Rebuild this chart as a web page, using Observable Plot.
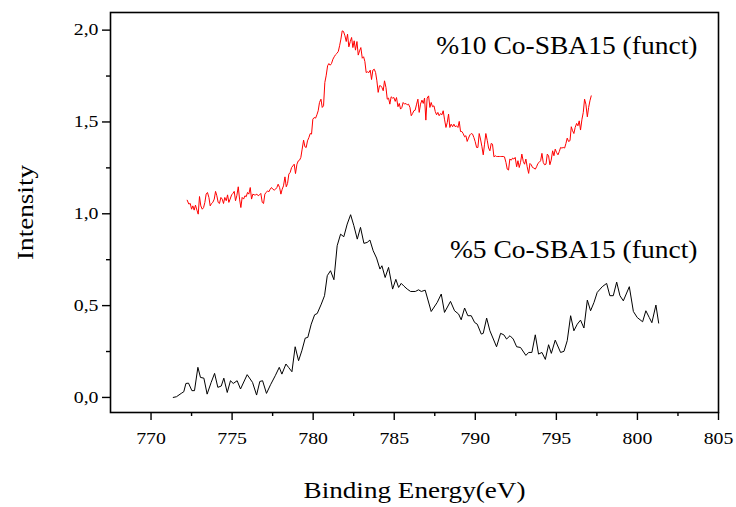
<!DOCTYPE html>
<html>
<head>
<meta charset="utf-8">
<script src="https://cdn.jsdelivr.net/npm/d3@7"></script>
<script src="https://cdn.jsdelivr.net/npm/@observablehq/plot@0.6"></script>
<style>
  html, body { margin: 0; padding: 0; background: #fff; }
  #chart svg, #chart svg text { font-family: "Liberation Serif", "Times New Roman", serif; }
</style>
</head>
<body>
<div id="chart"></div>
<script>
// ---- Data ----
// %5 Co-SBA15 (funct): [binding energy (eV), intensity]
const cobalt5 = [
  [771.37,0.000],[771.57,0.004],[771.86,0.022],[772.02,0.031],[772.15,0.076],[772.31,0.078],[772.52,0.037],[772.68,0.037],[772.89,0.164],[773.05,0.109],
  [773.26,0.105],[773.46,0.018],[773.71,0.082],[773.92,0.131],[774.12,0.055],[774.33,0.062],[774.49,0.105],[774.70,0.027],[774.90,0.091],[775.07,0.076],
  [775.31,0.091],[775.52,0.046],[775.93,0.124],[776.26,0.082],[776.51,0.013],[776.71,0.087],[776.88,0.091],[777.12,0.022],[777.37,0.069],[777.66,0.118],
  [777.91,0.164],[778.07,0.127],[778.32,0.182],[778.48,0.164],[778.69,0.140],[778.89,0.276],[779.10,0.200],[779.30,0.254],[779.51,0.323],[779.67,0.327],
  [779.88,0.399],[780.09,0.450],[780.25,0.457],[780.50,0.508],[780.70,0.554],[780.87,0.663],[781.07,0.690],[781.28,0.641],[781.48,0.826],[781.69,0.889],
  [781.89,0.875],[782.10,0.944],[782.31,0.995],[782.51,0.935],[782.72,0.862],[782.92,0.926],[783.13,0.839],[783.33,0.844],[783.50,0.857],[783.70,0.799],
  [783.91,0.759],[784.12,0.699],[784.24,0.717],[784.44,0.653],[784.65,0.708],[784.90,0.590],[785.10,0.643],[785.27,0.599],[785.43,0.621],[785.60,0.606],
  [785.80,0.590],[786.01,0.577],[786.30,0.577],[786.50,0.586],[786.67,0.577],[786.91,0.584],[787.28,0.468],[787.65,0.517],[787.90,0.563],[788.10,0.463],
  [788.47,0.523],[788.72,0.472],[788.97,0.454],[789.13,0.423],[789.34,0.487],[789.54,0.445],[789.75,0.445],[789.96,0.408],[790.12,0.399],[790.37,0.345],
  [790.49,0.349],[790.70,0.432],[790.90,0.363],[791.31,0.276],[791.56,0.349],[791.76,0.341],[791.93,0.318],[792.14,0.336],[792.34,0.318],[792.55,0.276],
  [792.79,0.272],[793.12,0.229],[793.29,0.245],[793.49,0.245],[793.70,0.341],[793.90,0.236],[794.11,0.245],[794.32,0.207],[794.52,0.287],[794.69,0.240],
  [794.93,0.312],[795.26,0.245],[795.47,0.251],[795.67,0.309],[795.88,0.445],[796.08,0.363],[796.29,0.399],[796.49,0.421],[796.70,0.378],[796.91,0.530],
  [797.11,0.472],[797.32,0.517],[797.52,0.572],[797.83,0.603],[798.10,0.621],[798.30,0.554],[798.51,0.554],[798.72,0.628],[798.92,0.554],[799.13,0.526],
  [799.50,0.603],[799.75,0.468],[799.99,0.435],[800.32,0.412],[800.52,0.472],[800.73,0.435],[800.89,0.407],[801.14,0.503],[801.31,0.405]
];

// %10 Co-SBA15 (funct): [binding energy (eV), intensity]
const cobalt10 = [
  [772.23,1.074],[772.33,1.053],[772.42,1.056],[772.50,1.025],[772.58,1.043],[772.66,1.020],[772.74,1.047],[772.83,1.020],[772.91,0.998],[772.99,1.094],
  [773.07,1.043],[773.16,1.025],[773.24,1.034],[773.32,1.062],[773.40,1.107],[773.48,1.116],[773.57,1.089],[773.65,1.043],[773.73,1.056],[773.81,1.062],
  [773.90,1.080],[773.98,1.122],[774.06,1.098],[774.14,1.062],[774.22,1.056],[774.31,1.089],[774.39,1.080],[774.47,1.056],[774.55,1.089],[774.64,1.071],
  [774.72,1.103],[774.80,1.062],[774.88,1.080],[774.97,1.103],[775.05,1.111],[775.13,1.122],[775.21,1.071],[775.29,1.098],[775.38,1.147],[775.46,1.080],
  [775.54,1.034],[775.62,1.089],[775.71,1.080],[775.79,1.098],[775.87,1.093],[775.95,1.116],[776.03,1.107],[776.12,1.143],[776.20,1.080],[776.28,1.107],
  [776.36,1.103],[776.45,1.103],[776.53,1.107],[776.61,1.098],[776.69,1.103],[776.77,1.111],[776.86,1.062],[776.94,1.056],[777.02,1.107],[777.10,1.116],
  [777.19,1.125],[777.27,1.120],[777.35,1.134],[777.43,1.143],[777.51,1.134],[777.60,1.129],[777.68,1.134],[777.76,1.143],[777.84,1.161],[777.93,1.143],
  [778.01,1.107],[778.09,1.134],[778.17,1.152],[778.26,1.201],[778.34,1.147],[778.42,1.165],[778.50,1.216],[778.58,1.225],[778.67,1.252],[778.75,1.261],
  [778.83,1.270],[778.91,1.219],[779.00,1.270],[779.08,1.288],[779.16,1.292],[779.24,1.307],[779.32,1.352],[779.41,1.401],[779.49,1.365],[779.57,1.361],
  [779.65,1.397],[779.74,1.416],[779.82,1.437],[779.90,1.434],[779.98,1.515],[780.06,1.524],[780.15,1.521],[780.23,1.539],[780.31,1.561],[780.39,1.606],
  [780.48,1.624],[780.56,1.579],[780.64,1.588],[780.72,1.715],[780.80,1.751],[780.89,1.806],[780.97,1.818],[781.05,1.809],[781.13,1.818],[781.22,1.842],
  [781.30,1.855],[781.38,1.866],[781.46,1.873],[781.55,1.884],[781.63,1.915],[781.71,1.951],[781.79,1.996],[781.87,1.993],[781.96,1.969],[782.04,1.938],
  [782.12,1.978],[782.20,1.909],[782.29,1.938],[782.37,1.960],[782.45,1.905],[782.53,1.942],[782.61,1.891],[782.70,1.938],[782.78,1.864],[782.86,1.887],
  [782.94,1.905],[783.03,1.847],[783.11,1.855],[783.19,1.829],[783.27,1.769],[783.35,1.773],[783.44,1.769],[783.52,1.782],[783.60,1.731],[783.68,1.782],
  [783.77,1.787],[783.85,1.769],[783.93,1.724],[784.01,1.661],[784.09,1.697],
  [784.16,1.697],[784.24,1.688],[784.32,1.670],[784.40,1.724],[784.49,1.688],[784.57,1.624],[784.65,1.630],[784.73,1.597],[784.81,1.637],[784.90,1.630],
  [784.98,1.633],[785.06,1.612],[785.14,1.633],[785.23,1.583],[785.31,1.601],[785.39,1.570],[785.47,1.579],[785.55,1.606],[785.64,1.597],[785.72,1.601],
  [785.80,1.593],[785.88,1.597],[785.97,1.579],[786.05,1.534],[786.13,1.546],[786.21,1.561],[786.29,1.564],[786.38,1.597],[786.46,1.624],[786.54,1.552],
  [786.62,1.597],[786.71,1.619],[786.79,1.601],[786.87,1.630],[786.95,1.510],[787.03,1.630],[787.12,1.642],[787.20,1.579],[787.28,1.606],[787.36,1.583],
  [787.45,1.588],[787.53,1.557],[787.61,1.539],[787.69,1.552],[787.77,1.534],[787.86,1.546],[787.94,1.539],[788.02,1.561],[788.10,1.515],[788.19,1.470],
  [788.27,1.497],[788.35,1.543],[788.43,1.470],[788.51,1.488],[788.60,1.474],[788.68,1.488],[788.76,1.474],[788.84,1.479],[788.93,1.470],[789.01,1.503],
  [789.09,1.448],[789.17,1.448],[789.25,1.437],[789.34,1.419],[789.42,1.425],[789.50,1.394],[789.58,1.412],[789.67,1.430],[789.75,1.437],[789.83,1.434],
  [789.91,1.416],[789.99,1.394],[790.08,1.361],[790.16,1.361],[790.24,1.437],[790.32,1.407],[790.41,1.365],[790.49,1.321],[790.57,1.379],[790.65,1.437],
  [790.74,1.398],[790.82,1.358],[790.90,1.343],[790.98,1.383],[791.06,1.379],[791.15,1.310],[791.23,1.316],[791.31,1.312],[791.39,1.312],[791.48,1.312],
  [791.56,1.312],[791.64,1.312],[791.72,1.312],[791.80,1.310],[791.89,1.280],[791.97,1.243],[792.05,1.238],[792.13,1.298],[792.22,1.292],[792.30,1.303],
  [792.38,1.298],[792.46,1.307],[792.55,1.256],[792.63,1.289],[792.71,1.252],[792.79,1.280],[792.87,1.325],[792.96,1.285],[793.04,1.270],[793.12,1.298],
  [793.20,1.256],[793.29,1.220],[793.37,1.274],[793.45,1.267],[793.53,1.252],[793.61,1.249],[793.70,1.243],[793.78,1.256],[793.86,1.274],[793.94,1.280],
  [794.03,1.289],[794.11,1.329],[794.19,1.280],[794.27,1.267],[794.36,1.270],[794.44,1.325],[794.52,1.316],[794.60,1.267],[794.68,1.292],[794.77,1.343],
  [794.85,1.316],[794.93,1.352],[795.01,1.334],[795.10,1.321],[795.18,1.339],[795.26,1.361],[795.34,1.358],[795.42,1.361],[795.51,1.358],[795.59,1.383],
  [795.67,1.412],[795.75,1.394],[795.84,1.398],[795.92,1.474],[796.00,1.452],[796.08,1.437],[796.16,1.470],[796.25,1.492],[796.33,1.479],[796.41,1.506],
  [796.49,1.456],[796.58,1.515],[796.66,1.552],[796.74,1.624],[796.82,1.597],[796.91,1.528],[796.99,1.579],[797.07,1.615],[797.15,1.642]
];

// Axis ticks
const xTicks = [770, 775, 780, 785, 790, 795, 800, 805];
const xMinorTicks = [772.5, 777.5, 782.5, 787.5, 792.5, 797.5, 802.5];
const yTicks = [0, 0.5, 1.0, 1.5, 2.0];
const yMinorTicks = [0.25, 0.75, 1.25, 1.75];

// Series labels, anchored in data coordinates (right end)
const seriesLabels = [
  {energy: 803.7, intensity: 1.912, text: "%10 Co-SBA15 (funct)"},
  {energy: 803.7, intensity: 0.802, text: "%5 Co-SBA15 (funct)"}
];

const xTitle = "Binding Energy(eV)";
const yTitle = "Intensity";

const commaFormat = d => d3.format(".1f")(d).replace(".", ",");
const serif = "'Liberation Serif', 'Times New Roman', serif";

const chart = Plot.plot({
  width: 736,
  height: 507,
  marginLeft: 110,
  marginRight: 18,
  marginTop: 12,
  marginBottom: 95,
  style: {fontFamily: serif, background: "#ffffff", color: "#000000"},
  x: {domain: [767.5, 805]},
  y: {domain: [-0.082, 2.096]},
  marks: [
    Plot.axisX(xTicks, {tickSize: 8, tickPadding: 12, fontSize: 16.5, fontFamily: serif, strokeWidth: 1.4, tickFormat: d => String(d), label: null}),
    Plot.axisX(xMinorTicks, {tickSize: 4, strokeWidth: 1.4, tickFormat: () => "", label: null}),
    Plot.axisY(yTicks, {tickSize: 8, tickPadding: 4, fontSize: 16.5, fontFamily: serif, strokeWidth: 1.4, tickFormat: commaFormat, label: null}),
    Plot.axisY(yMinorTicks, {tickSize: 4, strokeWidth: 1.4, tickFormat: () => "", label: null}),
    Plot.frame({stroke: "#000", strokeWidth: 1.6}),
    Plot.line(cobalt5, {x: d => d[0], y: d => d[1], stroke: "#000000", strokeWidth: 1}),
    Plot.line(cobalt10, {x: d => d[0], y: d => d[1], stroke: "#ff0000", strokeWidth: 1}),
    Plot.text(seriesLabels, {x: "energy", y: "intensity", text: "text", textAnchor: "end", fontSize: 25, fontFamily: serif, fill: "#000"}),
    Plot.text([yTitle], {frameAnchor: "left", dx: -85, rotate: -90, textAnchor: "middle", lineAnchor: "middle", fontSize: 23, fontFamily: serif, fill: "#000"}),
    Plot.text([xTitle], {frameAnchor: "bottom", dy: 78, textAnchor: "middle", lineAnchor: "middle", fontSize: 23, fontFamily: serif, fill: "#000"})
  ]
});

document.getElementById("chart").appendChild(chart);

// The reference typeface is set wider than Times; widen glyphs to match.
chart.querySelectorAll("text").forEach(t => {
  const fs = parseFloat(getComputedStyle(t).fontSize);
  const factor = fs >= 24 ? 1.1 : fs >= 20 ? 1.18 : 1.2;
  const len = t.getComputedTextLength();
  if (len > 0) {
    t.setAttribute("textLength", (len * factor).toFixed(2));
    t.setAttribute("lengthAdjust", "spacingAndGlyphs");
  }
});
</script>
</body>
</html>
